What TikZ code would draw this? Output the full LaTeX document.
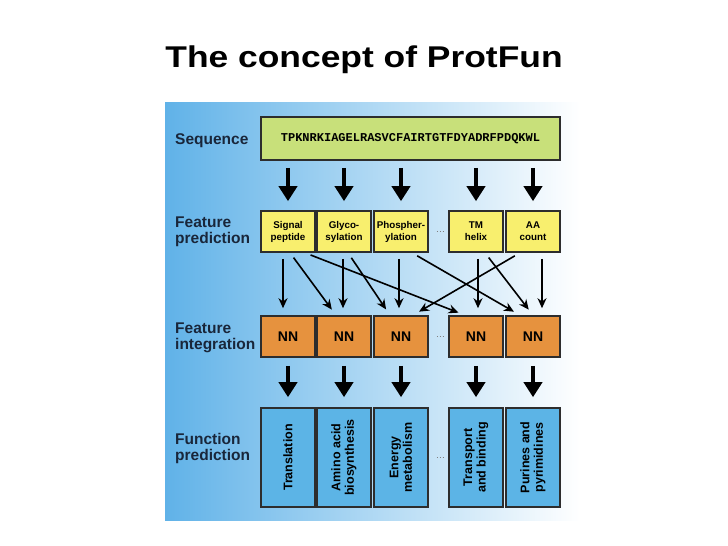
\documentclass[tikz,border=0pt]{standalone}
\usepackage{fontspec}
\setmainfont{Liberation Sans}
\setmonofont{Liberation Mono}
\usetikzlibrary{arrows.meta,calc}

\definecolor{panelblue}{RGB}{96,178,232}
\definecolor{seqgreen}{RGB}{200,224,122}
\definecolor{featyellow}{RGB}{248,239,110}
\definecolor{nnorange}{RGB}{230,146,62}
\definecolor{funcblue}{RGB}{92,180,230}
\definecolor{edgegray}{RGB}{45,45,45}
\definecolor{labelnavy}{RGB}{25,38,58}

\tikzset{
  box/.style={draw=edgegray, line width=1.6pt, minimum width=54pt, inner sep=0pt, align=center},
  featbox/.style={box, fill=featyellow, minimum height=41pt, font=\fontsize{9.8}{12}\selectfont\bfseries},
  nnbox/.style={box, fill=nnorange, minimum height=41pt, font=\fontsize{14}{16}\selectfont\bfseries},
  funcbox/.style={box, fill=funcblue, minimum width=99pt, minimum height=54pt, rotate=90, font=\fontsize{12.5}{13.5}\selectfont\bfseries},
  rowlabel/.style={anchor=west, align=left, text=labelnavy, inner sep=0pt, font=\fontsize{15.5}{15.5}\selectfont\bfseries},
  bigarrow/.style={line width=4pt, -{Triangle[width=18pt,length=15pt]}, shorten <=7pt, shorten >=9pt},
  thinarrow/.style={line width=1.6pt, -{Stealth[length=10pt,width=9pt]}, shorten <=6pt, shorten >=7pt},
  dots/.style={gray, line width=0.9pt, dotted, shorten <=8pt, shorten >=5pt}
}

\begin{document}
\begin{tikzpicture}[x=1pt, y=-1pt]
  \useasboundingbox (0,0) rectangle (728,546);
  % Title
  \node[anchor=base, font=\fontsize{30}{34}\selectfont\bfseries] (title) at (364,67) {\scalebox{1.18}[1]{The concept of ProtFun}};
  % Panel background
  \shade[left color=panelblue, right color=white] (165,102) rectangle (580,520);

  % Row labels
  \node[rowlabel, anchor=base west] (lseq) at (175,144) {Sequence};
  \node[rowlabel] (lfeat) at (175,232) {Feature\\prediction};
  \node[rowlabel] (lint) at (175,338) {Feature\\integration};
  \node[rowlabel] (lfunc) at (175,448.5) {Function\\prediction};

  % Sequence
  \node[box, fill=seqgreen, minimum width=299pt, minimum height=43pt, font=\fontsize{12}{14}\selectfont\ttfamily\bfseries] (seq) at (410.5,138.5) {TPKNRKIAGELRASVCFAIRTGTFDYADRFPDQKWL};

  % Feature boxes
  \node[featbox] (sig) at (288,231.5) {Signal\\peptide};
  \node[featbox] (gly) at (344,231.5) {Glyco-\\sylation};
  \node[featbox] (pho) at (401,231.5) {Phospher-\\ylation};
  \node[featbox] (tmh) at (476,231.5) {TM\\helix};
  \node[featbox] (aac) at (533,231.5) {AA\\count};

  % NN boxes
  \node[nnbox] (nn1) at (288,336.5) {NN};
  \node[nnbox] (nn2) at (344,336.5) {NN};
  \node[nnbox] (nn3) at (401,336.5) {NN};
  \node[nnbox] (nn4) at (476,336.5) {NN};
  \node[nnbox] (nn5) at (533,336.5) {NN};

  % Function boxes
  \node[funcbox] (trans) at (288,457.5) {Translation};
  \node[funcbox] (amino) at (344,457.5) {Amino acid\\biosynthesis};
  \node[funcbox] (energy) at (401,457.5) {Energy\\metabolism};
  \node[funcbox] (transp) at (476,457.5) {Transport\\and binding};
  \node[funcbox] (purin) at (533,457.5) {Purines and\\pyrimidines};

  % Omitted columns
  \draw[dots] (pho.east) -- (tmh.west);
  \draw[dots] (nn3.east) -- (nn4.west);
  \draw[dots] (energy.south) -- (transp.north);

  % Sequence to features
  \draw[bigarrow] (seq.south -| sig) -- (sig.north);
  \draw[bigarrow] (seq.south -| gly) -- (gly.north);
  \draw[bigarrow] (seq.south -| pho) -- (pho.north);
  \draw[bigarrow] (seq.south -| tmh) -- (tmh.north);
  \draw[bigarrow] (seq.south -| aac) -- (aac.north);

  % Features to networks
  \draw[thinarrow] ($(sig.south)+(-5,0)$) -- ($(nn1.north)+(-5,0)$);
  \draw[thinarrow] ($(sig.south)+(2,0)$) -- ($(nn2.north)+(-8,0)$);
  \draw[thinarrow] ($(sig.south)+(17,0)$) -- ($(nn4.north)+(-11,0)$);
  \draw[thinarrow] ($(gly.south)+(-1,0)$) -- ($(nn2.north)+(-1,0)$);
  \draw[thinarrow] ($(gly.south)+(4,0)$) -- ($(nn3.north)+(-11,0)$);
  \draw[thinarrow] ($(pho.south)+(-2,0)$) -- ($(nn3.north)+(-2,0)$);
  \draw[thinarrow] ($(pho.south)+(11,0)$) -- ($(nn5.north)+(-13,0)$);
  \draw[thinarrow] ($(tmh.south)+(2,0)$) -- ($(nn4.north)+(2,0)$);
  \draw[thinarrow] ($(tmh.south)+(9,0)$) -- (nn5.north);
  \draw[thinarrow] ($(aac.south)+(-13,0)$) -- ($(nn3.north)+(12,0)$);
  \draw[thinarrow] ($(aac.south)+(9,0)$) -- ($(nn5.north)+(9,0)$);

  % Networks to functions
  \draw[bigarrow, shorten <=8pt, shorten >=10pt] (nn1.south) -- (trans.east);
  \draw[bigarrow, shorten <=8pt, shorten >=10pt] (nn2.south) -- (amino.east);
  \draw[bigarrow, shorten <=8pt, shorten >=10pt] (nn3.south) -- (energy.east);
  \draw[bigarrow, shorten <=8pt, shorten >=10pt] (nn4.south) -- (transp.east);
  \draw[bigarrow, shorten <=8pt, shorten >=10pt] (nn5.south) -- (purin.east);
\end{tikzpicture}
\end{document}
